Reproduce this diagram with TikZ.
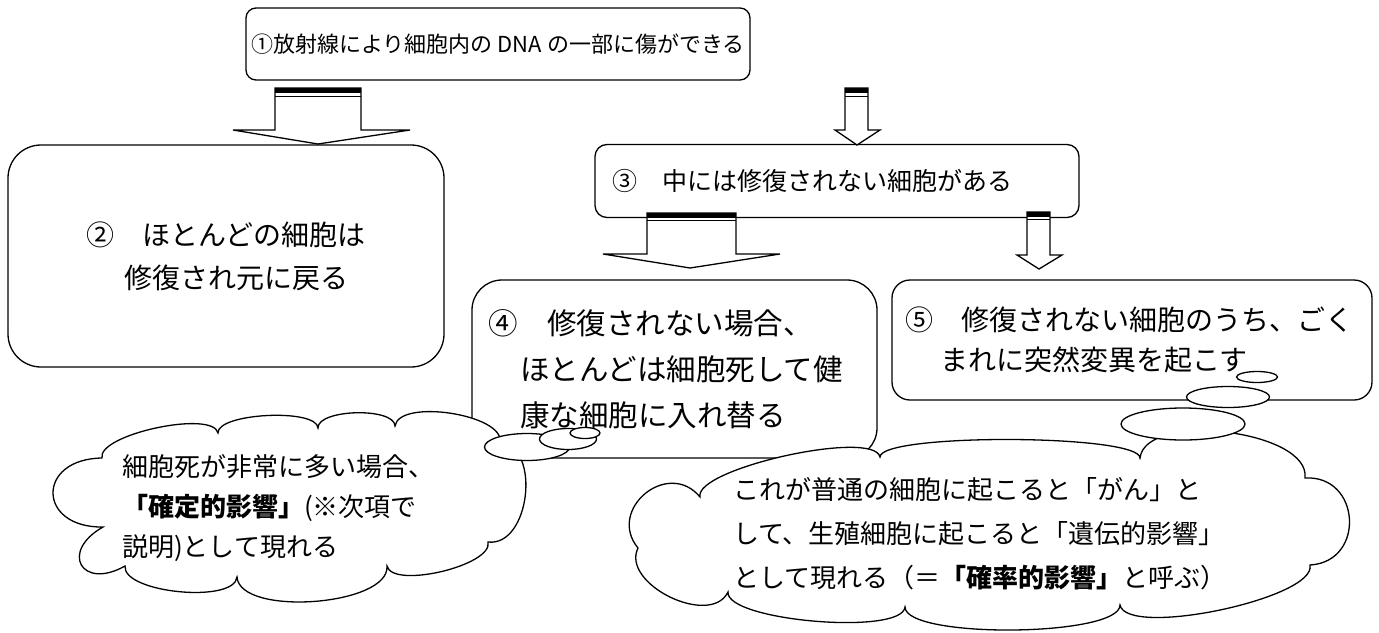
\documentclass[tikz,border=0pt]{standalone}
\usepackage{fontspec}
\setmainfont{Noto Sans CJK JP}
\usetikzlibrary{shapes.geometric,calc}

\newcommand{\fsz}[2]{\fontsize{#1pt}{#2pt}\selectfont}

\tikzset{
  box/.style={draw, line width=1.3pt, fill=white, align=left, inner ysep=0pt},
  barrow/.style={draw, fill=white, line width=1.3pt},
  bartop/.style={line width=5pt},
  barline/.style={line width=1pt},
  puffline/.style={draw, fill=white, line width=1.3pt},
  trail/.style={draw, ellipse, fill=white, line width=1.3pt, inner sep=0pt},
  cloudtext/.style={align=left, inner sep=0pt}
}

\begin{document}
\begin{tikzpicture}[x=1pt,y=-1pt]
  \fill[white] (0,0) rectangle (1379,632);
  \useasboundingbox (0,0) rectangle (1379,632);

  % boxes
  \node[box, rounded corners=10pt, minimum width=504pt, minimum height=72pt, font=\fsz{22}{26}] (b1) at (498,44) {①放射線により細胞内の DNA の一部に傷ができる};
  \node[box, rounded corners=33pt, minimum width=436pt, minimum height=222pt, text width=280pt, font=\fsz{28}{43}] (b2) at (226,256) {②　ほとんどの細胞は\\\hspace*{38pt}修復され元に戻る};
  \node[box, rounded corners=12pt, minimum width=484pt, minimum height=73pt, text width=450pt, font=\fsz{25}{30}] (b3) at (837,181) {③　中には修復されない細胞がある};
  \node[box, rounded corners=30pt, minimum width=405pt, minimum height=178pt, text width=373pt, font=\fsz{29.5}{46}] (b4) at (674.5,369) {④　修復されない場合、\\\hspace*{32pt}ほとんどは細胞死して健\\\hspace*{32pt}康な細胞に入れ替る};
  \node[box, rounded corners=18pt, minimum width=480pt, minimum height=120pt, text width=454pt, font=\fsz{28}{40}] (b5) at (1132,340) {⑤　修復されない細胞のうち、ごく\\\hspace*{35pt}まれに突然変異を起こす};

  % block arrows
  \draw[barrow] (275,88) -- (275,130) -- (233,130) -- (318,144) -- (410,130) -- (361,130) -- (361,88) -- cycle;
  \draw[bartop] (275,90.5) -- (361,90.5);
  \draw[barline] (275,96) -- (361,96);
  \draw[barrow] (845,88) -- (845,130) -- (835,130) -- (857,145) -- (880,130) -- (868,130) -- (868,88) -- cycle;
  \draw[bartop] (845,90.5) -- (868,90.5);
  \draw[barline] (845,96) -- (868,96);
  \draw[barrow] (647,213) -- (647,254) -- (603,254) -- (690,268) -- (780,254) -- (736,254) -- (736,213) -- cycle;
  \draw[bartop] (647,215.5) -- (736,215.5);
  \draw[barline] (647,220) -- (736,220);
  \draw[barrow] (1027,212) -- (1027,255) -- (1017,255) -- (1039,269) -- (1062,255) -- (1050,255) -- (1050,212) -- cycle;
  \draw[bartop] (1027,214.5) -- (1050,214.5);
  \draw[barline] (1027,219) -- (1050,219);

  % left cloud
  \coordinate (lc1) at (102,458);
  \coordinate (lc2) at (218,433);
  \coordinate (lc3) at (318,428);
  \coordinate (lc4) at (395,426);
  \coordinate (lc5) at (500,442);
  \coordinate (lc6) at (488,542);
  \coordinate (lc7) at (387,566);
  \coordinate (lc8) at (237,577);
  \coordinate (lc9) at (125,566);
  \coordinate (lc10) at (103,527);
  \draw[puffline] (lc1) \foreach \p/\q/\c in {lc1/lc2/24pt, lc2/lc3/20pt, lc3/lc4/19pt, lc4/lc5/28pt, lc5/lc6/42pt,
      lc6/lc7/24pt, lc7/lc8/40pt, lc8/lc9/27pt, lc9/lc10/50pt, lc10/lc1/66pt}
    { .. controls ($(\p)!\c!90:(\q)$) and ($(\q)!\c!-90:(\p)$) .. (\q) } -- cycle;
  \node[cloudtext, text width=312pt, font=\fsz{26}{40}] (t1) at (278,508) {細胞死が非常に多い場合、\\\textbf{「確定的影響」}(※次項で\\説明)として現れる};
  \node[trail, minimum width=85pt, minimum height=27pt] (l1) at (527,447) {};
  \node[trail, minimum width=57pt, minimum height=21pt] (l2) at (568,439) {};
  \node[trail, minimum width=30pt, minimum height=11pt] (l3) at (585,433) {};

  % right cloud
  \coordinate (rc1) at (638,548);
  \coordinate (rc2) at (700,497);
  \coordinate (rc3) at (880,457);
  \coordinate (rc4) at (1140,458);
  \coordinate (rc5) at (1305,478);
  \coordinate (rc6) at (1310,565);
  \coordinate (rc7) at (1120,605);
  \coordinate (rc8) at (905,607);
  \coordinate (rc9) at (728,592);
  \draw[puffline] (rc1) \foreach \p/\q/\c in {rc1/rc2/50pt, rc2/rc3/29pt, rc3/rc4/24pt, rc4/rc5/48pt, rc5/rc6/56pt,
      rc6/rc7/34pt, rc7/rc8/32pt, rc8/rc9/29pt, rc9/rc1/40pt}
    { .. controls ($(\p)!\c!90:(\q)$) and ($(\q)!\c!-90:(\p)$) .. (\q) } -- cycle;
  \node[cloudtext, text width=494pt, font=\fsz{26}{44}] (t2) at (980,534) {これが普通の細胞に起こると「がん」と\\して、生殖細胞に起こると「遺伝的影響」\\として現れる（＝\textbf{「確率的影響」}と呼ぶ）};
  \node[trail, minimum width=124pt, minimum height=32pt] (r1) at (1183,424) {};
  \node[trail, minimum width=83pt, minimum height=21pt] (r2) at (1228,397) {};
  \node[trail, minimum width=41pt, minimum height=11pt] (r3) at (1257,377) {};
\end{tikzpicture}
\end{document}
